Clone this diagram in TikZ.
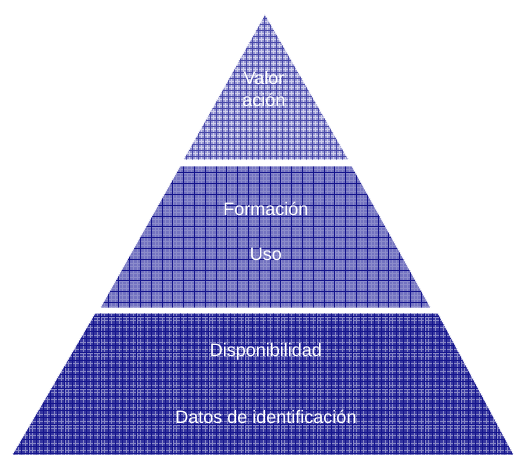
\documentclass[tikz,border=0pt]{standalone}
\usepackage{fontspec}
\setmainfont{Liberation Sans}
\usetikzlibrary{positioning}
\definecolor{TopBlue}{RGB}{150,150,210}
\definecolor{MidBlue}{RGB}{115,115,192}
\definecolor{LowBlue}{RGB}{55,55,160}
\definecolor{LineBlue}{RGB}{20,20,140}
\begin{document}
\begin{tikzpicture}[x=1pt, y=-1pt,
		LayerStyle/.style={draw=white, line width=0.8pt},
		LabelStyle/.style={text=white, font=\fontsize{18}{22}\selectfont, inner sep=0pt, align=center}]
	\useasboundingbox (0,0) rectangle (514,455);
	% top layer
	\begin{scope}
		\clip (265,14) -- (349,160) -- (183,160) -- cycle;
		\fill[TopBlue] (170,10) rectangle (360,160);
		\draw[white!55!TopBlue, line width=0.7pt, step=3pt] (170,160) grid (360,10);
		\draw[LineBlue!60!TopBlue, line width=0.3pt, step=6pt] (170,160) grid (360,10);
	\end{scope}
	% middle layer
	\begin{scope}
		\clip (180,166) -- (352,166) -- (431,308) -- (100,308) -- cycle;
		\fill[MidBlue] (90,166) rectangle (440,308);
		\draw[white!18!MidBlue, line width=0.3pt, step=3.6pt] (90,308) grid (440,166);
		\draw[LineBlue, line width=0.9pt, step=10.8pt] (90,308) grid (440,166);
	\end{scope}
	% bottom layer
	\begin{scope}
		\clip (95,313) -- (438,313) -- (514,455) -- (12,455) -- cycle;
		\fill[LowBlue] (0,313) rectangle (514,455);
		\draw[white!40!LowBlue, line width=0.5pt, step=3.6pt] (0,455) grid (514,313);
		\draw[LineBlue, line width=1pt, step=7.2pt] (0,455) grid (514,313);
	\end{scope}
	\draw[LayerStyle] (265,14) -- (349,160) -- (183,160) -- cycle;
	\draw[LayerStyle] (180,166) -- (352,166) -- (431,308) -- (100,308) -- cycle;
	\draw[LayerStyle] (95,313) -- (438,313) -- (514,455) -- (12,455) -- cycle;
	% labels
	\node[LabelStyle] (valor) at (264,89) {Valor\\ación};
	\node[LabelStyle] (formacion) at (266,209) {Formación};
	\node[LabelStyle] (uso) at (266,254) {Uso};
	\node[LabelStyle] (disponibilidad) at (266,352) {Disponibilidad};
	\node[LabelStyle] (datos) at (266,417) {Datos de identificación};
\end{tikzpicture}
\end{document}
